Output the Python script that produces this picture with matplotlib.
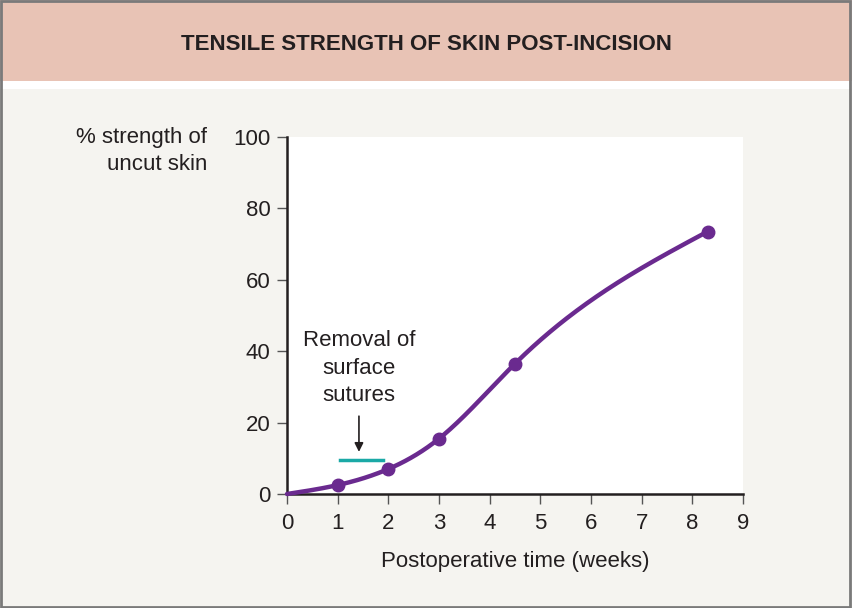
import numpy as np
import matplotlib
matplotlib.use("Agg")
import matplotlib.pyplot as plt
from matplotlib.patches import Rectangle

# Data
weeks = [0, 1, 2, 3, 4.5, 8.3]
strength = [0, 2.5, 7, 15.5, 36.5, 73.5]
marker_weeks = [1, 2, 3, 4.5, 8.3]
marker_strength = [2.5, 7, 15.5, 36.5, 73.5]
x_ticks = [0, 1, 2, 3, 4, 5, 6, 7, 8, 9]
y_ticks = [0, 20, 40, 60, 80, 100]
suture_removal = [1.05, 1.9]
suture_level = 9.6

def natural_spline(x, y, xs):
    x = np.asarray(x, float); y = np.asarray(y, float)
    n = len(x)
    h = np.diff(x)
    A = np.zeros((n, n)); b = np.zeros(n)
    A[0, 0] = 1; A[-1, -1] = 1
    for i in range(1, n - 1):
        A[i, i - 1] = h[i - 1]
        A[i, i] = 2 * (h[i - 1] + h[i])
        A[i, i + 1] = h[i]
        b[i] = 3 * ((y[i + 1] - y[i]) / h[i] - (y[i] - y[i - 1]) / h[i - 1])
    c = np.linalg.solve(A, b)
    out = np.empty_like(xs)
    for k, xv in enumerate(xs):
        i = min(max(np.searchsorted(x, xv) - 1, 0), n - 2)
        dx = xv - x[i]
        bi = (y[i + 1] - y[i]) / h[i] - h[i] * (2 * c[i] + c[i + 1]) / 3
        di = (c[i + 1] - c[i]) / (3 * h[i])
        out[k] = y[i] + bi * dx + c[i] * dx ** 2 + di * dx ** 3
    return out

plt.rcParams['font.family'] = ['Liberation Sans', 'DejaVu Sans']

fig = plt.figure(figsize=(8.52, 6.08), dpi=100)
fig.patch.set_facecolor('#f5f4f0')

# Title band and white strip
fig.add_artist(Rectangle((0, 0.8668), 1, 0.1332, transform=fig.transFigure,
                         facecolor='#e8c3b5', edgecolor='none', zorder=0))
fig.add_artist(Rectangle((0, 0.8536), 1, 0.0132, transform=fig.transFigure,
                         facecolor='white', edgecolor='none', zorder=0))
fig.add_artist(Rectangle((0.001, 0.002), 0.997, 0.996, transform=fig.transFigure,
                         facecolor='none', edgecolor='#7a7a7a', linewidth=2, zorder=5))

fig.text(0.5, 1 - 45 / 608, 'TENSILE STRENGTH OF SKIN POST-INCISION',
         ha='center', va='center', fontsize=16, fontweight='bold',
         color='#231f20')

ax = fig.add_axes([287 / 852, 1 - 494 / 608, (743 - 287) / 852, (494 - 137) / 608])
ax.set_facecolor('white')
ax.set_xlim(0, 9)
ax.set_ylim(0, 100)
for s in ['top', 'right']:
    ax.spines[s].set_visible(False)
for s in ['left', 'bottom']:
    ax.spines[s].set_linewidth(1.8)
    ax.spines[s].set_color('#231f20')
ax.set_xticks(x_ticks)
ax.set_yticks(y_ticks)
ax.tick_params(axis='both', length=7, width=1, color='#555555', labelsize=16,
               labelcolor='#231f20')
ax.tick_params(axis='x', pad=7)
ax.tick_params(axis='y', pad=5)

xs = np.linspace(0, 8.3, 300)
ax.plot(xs, natural_spline(weeks, strength, xs), color='#6a2a8f', linewidth=3.2,
        solid_capstyle='round', zorder=3, clip_on=False)
ax.plot(marker_weeks, marker_strength, 'o', color='#6a2a8f', markersize=9, zorder=4,
        clip_on=False)

ax.plot(suture_removal, [suture_level, suture_level], color='#1aa9a6', linewidth=2.5, zorder=3)
ax.annotate('', xy=(1.42, 11.8), xytext=(1.42, 21.8),
            arrowprops=dict(arrowstyle='-|>', color='#231f20', lw=1.2,
                            mutation_scale=13, shrinkA=0, shrinkB=0))
ax.text(1.42, 45.8, 'Removal of\nsurface\nsutures', ha='center', va='top',
        fontsize=16, color='#231f20', linespacing=1.38)

fig.text(207 / 852, 1 - 127 / 608, '% strength of\nuncut skin', ha='right', va='top',
         fontsize=16, color='#231f20', linespacing=1.38)
fig.text(515 / 852, 1 - 561 / 608, 'Postoperative time (weeks)', ha='center',
         va='center', fontsize=16, color='#231f20')

fig.savefig('out.png', dpi=100, facecolor=fig.get_facecolor())
